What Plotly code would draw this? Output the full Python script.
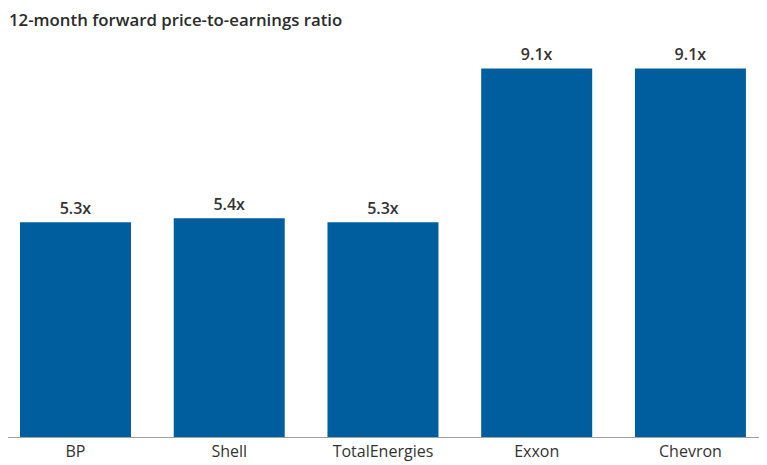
import plotly.graph_objects as go

companies = ["BP", "Shell", "TotalEnergies", "Exxon", "Chevron"]
pe_ratio = [5.3, 5.4, 5.3, 9.1, 9.1]
labels = [f"{v:.1f}x" for v in pe_ratio]

# the page body adds an 8px margin, so the figure is a bit smaller
# and the axis range is shifted to keep the bars where they belong
fig = go.Figure()
fig.add_trace(go.Bar(
    x=companies,
    y=pe_ratio,
    text=labels,
    textposition="outside",
    textfont=dict(family="Open Sans", size=16, color="#333333", weight=600),
    marker=dict(color="#005E9E", line=dict(width=0)),
    width=0.722,
    cliponaxis=False,
    hoverinfo="skip",
))

fig.update_layout(
    width=759,
    height=457,
    margin=dict(l=0, r=0, t=24, b=28),
    paper_bgcolor="white",
    plot_bgcolor="white",
    showlegend=False,
    font=dict(family="Open Sans", color="#333333"),
    annotations=[dict(
        text="12-month forward price-to-earnings ratio",
        x=0, y=1, xref="paper", yref="paper",
        xanchor="left", yanchor="top", yshift=25,
        showarrow=False, borderpad=0,
        font=dict(family="Open Sans", size=16.8, color="#2b2b2b", weight=600),
    )],
)

fig.update_xaxes(
    range=[-0.439, 4.498],
    showline=True, linecolor="#A0A0A0", linewidth=1,
    ticks="", showgrid=False,
    tickfont=dict(family="Open Sans", size=16, color="#333333"),
)
fig.update_yaxes(range=[0, 10], visible=False, showgrid=False)

fig.write_html("out.html")
